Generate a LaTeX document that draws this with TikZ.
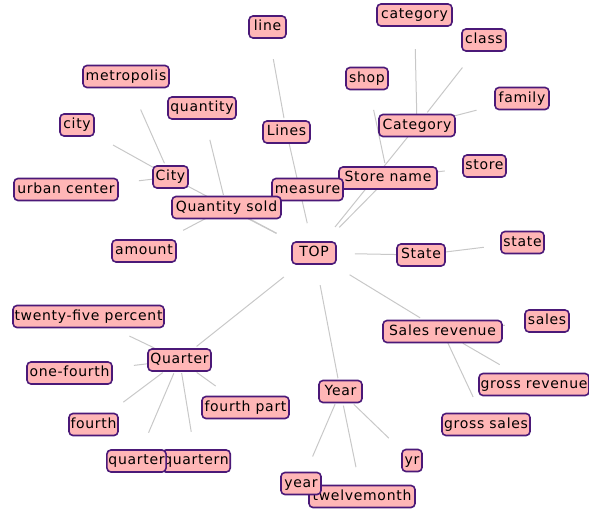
\documentclass[tikz,border=0pt]{standalone}
\usepackage{fontspec}
\setmainfont[LetterSpace=5]{DejaVu Sans}
\usetikzlibrary{calc}
\definecolor{nfill}{RGB}{255,182,182}
\definecolor{ndraw}{RGB}{75,25,120}
\definecolor{egray}{RGB}{200,200,200}
\newcommand\edg[4]{\draw[edge] ($(#1)!#3!(#2)$) -- ($(#1)!#4!(#2)$);}
\begin{document}
\begin{tikzpicture}[x=1pt,y=-1pt,
  nd/.style={draw=ndraw,fill=nfill,line width=1.6pt,rounded corners=4pt,
    font=\fontsize{14pt}{16pt}\selectfont,text height=10pt,text depth=2.5pt,
    inner xsep=1.5pt,inner ysep=4.75pt,minimum width=#1},
  nd/.default=20pt,
  edge/.style={draw=egray,line width=1pt}]
\useasboundingbox (0,0) rectangle (589,509);
% coordinates for edges (node centers)
\coordinate (top) at (314,253);
\coordinate (qsold) at (226.5,207.5);
\coordinate (cityP) at (170.5,177);
\coordinate (lines) at (286.5,132);
\coordinate (measure) at (307.5,189.5);
\coordinate (catP) at (417,125.5);
\coordinate (storen) at (388,178);
\coordinate (stateP) at (421,255);
\coordinate (salesrev) at (442.5,331.5);
\coordinate (yearP) at (340.5,391.5);
\coordinate (quarterP) at (179.5,360);
\coordinate (quantity) at (202,108);
\coordinate (amount) at (144,251);
\coordinate (metropolis) at (126,76.5);
\coordinate (city) at (77,125);
\coordinate (urban) at (66,189.5);
\coordinate (line) at (267.5,27);
\coordinate (category) at (414.5,15);
\coordinate (class) at (484,40);
\coordinate (family) at (522,98.5);
\coordinate (shop) at (367,78.5);
\coordinate (store) at (484.5,166);
\coordinate (state) at (522.5,242.5);
\coordinate (sales) at (547,321);
\coordinate (grossrev) at (534,384.5);
\coordinate (grosssales) at (486,424.5);
\coordinate (year) at (301,483.5);
\coordinate (twelve) at (362,496.5);
\coordinate (yr) at (412,460.5);
\coordinate (tfp) at (88.5,316.5);
\coordinate (onefourth) at (69.5,373);
\coordinate (fourth) at (93.5,424.5);
\coordinate (fourthpart) at (245.5,407.5);
\coordinate (quarter) at (136.5,461);
\coordinate (quartern) at (196,461);
% edges
\edg{top}{qsold}{0.43}{0.76}
\edg{top}{cityP}{0.26}{0.88}
\edg{top}{lines}{0.246}{0.906}
\edg{top}{catP}{0.204}{0.911}
\edg{top}{storen}{0.342}{0.872}
\edg{top}{stateP}{0.383}{0.776}
\edg{top}{salesrev}{0.277}{0.826}
\edg{top}{yearP}{0.232}{0.904}
\edg{top}{quarterP}{0.224}{0.873}
\edg{qsold}{quantity}{0.127}{0.68}
\edg{qsold}{amount}{0.248}{0.526}
\edg{cityP}{metropolis}{0.137}{0.671}
\edg{cityP}{city}{0.188}{0.615}
\edg{cityP}{urban}{0.167}{0.303}
\edg{lines}{line}{0.132}{0.694}
\edg{catP}{category}{0.095}{0.692}
\edg{catP}{class}{0.153}{0.678}
\edg{catP}{family}{0.359}{0.567}
\edg{storen}{shop}{0.15}{0.685}
\edg{storen}{store}{0.45}{0.588}
\edg{stateP}{state}{0.235}{0.62}
\edg{salesrev}{sales}{0.3}{0.597}
\edg{salesrev}{grossrev}{0.222}{0.625}
\edg{salesrev}{grosssales}{0.124}{0.704}
\edg{yearP}{year}{0.138}{0.706}
\edg{yearP}{twelve}{0.134}{0.721}
\edg{yearP}{yr}{0.185}{0.676}
\edg{quarterP}{tfp}{0.275}{0.55}
\edg{quarterP}{onefourth}{0.287}{0.415}
\edg{quarterP}{fourth}{0.195}{0.653}
\edg{quarterP}{quarter}{0.132}{0.72}
\edg{quarterP}{quartern}{0.129}{0.711}
\edg{quarterP}{fourthpart}{0.261}{0.548}
% nodes
\node[nd=44pt] (nTOP) at (top) {TOP};
\node[nd=35pt] (nCity) at (cityP) {City};
\node[nd=47pt] (nLines) at (lines) {Lines};
\node[nd=76pt] (nCategory) at (catP) {Category};
\node[nd=98pt] (nStorename) at (storen) {Store name};
\node[nd=71pt] (nmeasure) at (measure) {measure};
\node[nd=109pt] (nQsold) at (qsold) {Quantity sold};
\node[nd=48pt] (nState) at (stateP) {State};
\node[nd=119pt] (nSalesrev) at (salesrev) {Sales revenue};
\node[nd=43pt] (nYear) at (yearP) {Year};
\node[nd=63pt] (nQuarter) at (quarterP) {Quarter};
\node[nd=68pt] (nquantity) at (quantity) {quantity};
\node[nd=64pt] (namount) at (amount) {amount};
\node[nd=86pt] (nmetropolis) at (metropolis) {metropolis};
\node[nd=34pt] (ncity) at (city) {city};
\node[nd=104pt] (nurban) at (urban) {urban center};
\node[nd=37pt] (nline) at (line) {line};
\node[nd=75pt] (ncategory) at (category) {category};
\node[nd=44pt] (nclass) at (class) {class};
\node[nd=54pt] (nfamily) at (family) {family};
\node[nd=42pt] (nshop) at (shop) {shop};
\node[nd=43pt] (nstore) at (store) {store};
\node[nd=43pt] (nstate) at (state) {state};
\node[nd=44pt] (nsales) at (sales) {sales};
\node[nd=108pt] (ngrossrev) at (grossrev) {gross revenue};
\node[nd=88pt] (ngrosssales) at (grosssales) {gross sales};
\node[nd=106pt] (ntwelve) at (twelve) {twelvemonth};
\node[nd=40pt] (nyear) at (year) {year};
\node[nd=20pt] (nyr) at (yr) {yr};
\node[nd=151pt] (ntfp) at (tfp) {twenty-five percent};
\node[nd=85pt] (nonefourth) at (onefourth) {one-fourth};
\node[nd=49pt] (nfourth) at (fourth) {fourth};
\node[nd=87pt] (nfourthpart) at (fourthpart) {fourth part};
\node[nd=66pt] (nquartern) at (quartern) {quartern};
\node[nd=59pt] (nquarter) at (quarter) {quarter};
\end{tikzpicture}
\end{document}
